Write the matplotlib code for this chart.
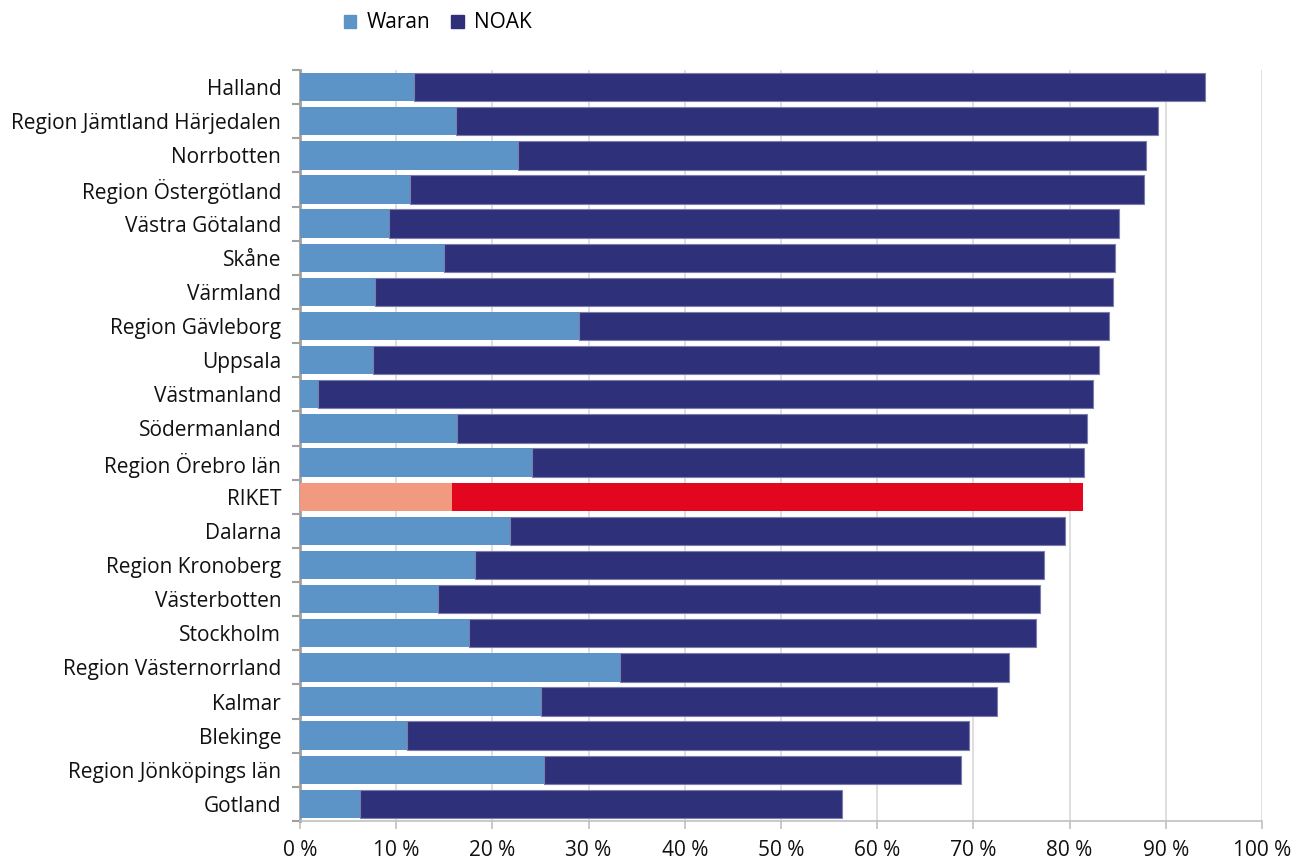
import matplotlib.pyplot as plt
import numpy as np
from matplotlib.patches import Patch

regions = ['Halland', 'Region Jämtland Härjedalen', 'Norrbotten', 'Region Östergötland',
           'Västra Götaland', 'Skåne', 'Värmland', 'Region Gävleborg', 'Uppsala',
           'Västmanland', 'Södermanland', 'Region Örebro län', 'RIKET', 'Dalarna',
           'Region Kronoberg', 'Västerbotten', 'Stockholm', 'Region Västernorrland',
           'Kalmar', 'Blekinge', 'Region Jönköpings län', 'Gotland']
waran = [11.9, 16.2, 22.7, 11.4, 9.2, 15.0, 7.8, 29.0, 7.6, 1.9, 16.35, 24.1, 15.8,
         21.8, 18.2, 14.3, 17.6, 33.3, 25.0, 11.1, 25.4, 6.2]
total = [94.1, 89.2, 87.9, 87.7, 85.1, 84.7, 84.5, 84.1, 83.1, 82.4, 81.8, 81.5, 81.4,
         79.5, 77.3, 76.9, 76.5, 73.7, 72.5, 69.5, 68.7, 56.3]
noak = [t - w for t, w in zip(total, waran)]

c_waran = '#5D94C7'
c_noak = '#2E3179'
c_waran_riket = '#F29A80'
c_noak_riket = '#E2071E'

plt.rcParams['font.family'] = ['Open Sans', 'DejaVu Sans']

fig = plt.figure(figsize=(12.98, 8.59), dpi=100)
ax = fig.add_axes([300/1298, 1 - 821/859, 962/1298, 751/859])

y = np.arange(len(regions))
is_riket = [r == 'RIKET' for r in regions]
cw = [c_waran_riket if r else c_waran for r in is_riket]
cn = [c_noak_riket if r else c_noak for r in is_riket]
en = ['none' if r else '#7A7DAE' for r in is_riket]
ax.barh(y, waran, height=0.83, color=cw, zorder=3)
ax.barh(y, noak, left=waran, height=0.83, color=cn, edgecolor=en, linewidth=0.8, zorder=3)

ax.set_ylim(len(regions) - 0.5, -0.5)
ax.set_xlim(0, 100)
ax.set_yticks(y)
ax.set_yticklabels(regions, fontsize=15, color='#111111')
ax.set_yticks(np.arange(-0.5, len(regions)), minor=True)
ax.tick_params(axis='y', which='major', length=0, pad=13.5)
ax.tick_params(axis='y', which='minor', length=6, color='#A0A0A0', width=1.5)

ax.set_xticks(np.arange(0, 101, 10))
ax.set_xticklabels([f'{v} %' for v in range(0, 101, 10)], fontsize=15, color='#111111')
ax.tick_params(axis='x', length=6, color='#C0C0C0', width=1.2, pad=8)
ax.grid(axis='x', color='#D9D9D9', linewidth=1.2, zorder=0)

for s in ['top', 'right']:
    ax.spines[s].set_visible(False)
ax.spines['left'].set_color('#A0A0A0')
ax.spines['left'].set_linewidth(2)
ax.spines['bottom'].set_color('#C0C0C0')
ax.spines['bottom'].set_linewidth(1.2)

handles = [Patch(color=c_waran, label='Waran'), Patch(color=c_noak, label='NOAK')]
fig.legend(handles=handles, loc='center', bbox_to_anchor=(438/1298, 1 - 23/859), ncol=2,
           frameon=False, fontsize=15, handlelength=0.6, handleheight=0.6,
           handletextpad=0.5, columnspacing=1.0)

fig.savefig('out.png', dpi=100)
